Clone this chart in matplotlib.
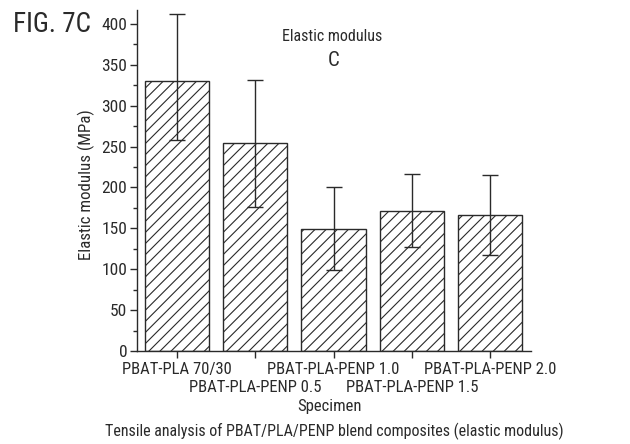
import matplotlib
matplotlib.use("Agg")
import matplotlib.pyplot as plt
from matplotlib import font_manager
import numpy as np

categories = ["PBAT-PLA 70/30", "PBAT-PLA-PENP 0.5", "PBAT-PLA-PENP 1.0",
              "PBAT-PLA-PENP 1.5", "PBAT-PLA-PENP 2.0"]
means = [330, 254, 149, 171, 166]
upper = [412, 331, 201, 216, 215]
lower = [258, 176, 99, 127, 117]

names = {f.name for f in font_manager.fontManager.ttflist}
fam = "Roboto Condensed" if "Roboto Condensed" in names else "DejaVu Sans"
plt.rcParams['font.family'] = [fam, 'DejaVu Sans']
plt.rcParams['hatch.linewidth'] = 0.8
plt.rcParams['hatch.color'] = '#333333'

ink = '#2a2a2a'
fig = plt.figure(figsize=(6.30, 4.44), dpi=100)
ax = fig.add_axes([137/630, 1-351/444, (531-137)/630, (351-10)/444])

x = np.arange(len(categories))
m = np.array(means)
yerr = np.array([m - np.array(lower), np.array(upper) - m])
ax.bar(x, m, width=0.82, facecolor='white', edgecolor=ink, linewidth=1.0,
       hatch='///', zorder=2)
ax.errorbar(x, m, yerr=yerr, fmt='none', ecolor=ink, elinewidth=1.0,
            capsize=6, capthick=1.0, zorder=3)

ax.set_xlim(-0.51, 4.52)
ax.set_ylim(0, 417)
ax.spines['top'].set_visible(False)
ax.spines['right'].set_visible(False)
for s in ('left', 'bottom'):
    ax.spines[s].set_color(ink)
    ax.spines[s].set_linewidth(1.0)

ax.set_yticks(np.arange(0, 401, 50))
ax.set_yticks(np.arange(25, 401, 50), minor=True)
ax.tick_params(axis='y', which='major', length=5, width=1, color=ink,
               labelsize=12.5, labelcolor=ink, pad=2)
ax.tick_params(axis='y', which='minor', length=3, width=1, color=ink)

ax.set_xticks(x)
ax.set_xticklabels(categories)
ax.tick_params(axis='x', which='major', length=5, width=1, color=ink,
               labelsize=12, labelcolor=ink, pad=3)
for i, t in enumerate(ax.xaxis.get_major_ticks()):
    if i % 2 == 1:
        t.tick1line.set_markersize(19)
        t.set_pad(16)

ax.set_ylabel("Elastic modulus (MPa)", fontsize=12.2, color=ink)
ax.yaxis.set_label_coords((95 - 137) / (531 - 137), (351 - 185) / (351 - 10))

fig.text(13/630, 1-25/444, "FIG. 7C", fontsize=19.5, color=ink, ha='left', va='center')
fig.text(332/630, 1-36/444, "Elastic modulus", fontsize=11.5, color=ink, ha='center', va='center')
fig.text(334/630, 1-60/444, "C", fontsize=15, color=ink, ha='center', va='center')
fig.text(329/630, 1-406/444, "Specimen", fontsize=12, color=ink, ha='center', va='center')
fig.text(334/630, 1-431/444,
         "Tensile analysis of PBAT/PLA/PENP blend composites (elastic modulus)",
         fontsize=11.5, color=ink, ha='center', va='center')

fig.savefig("out.png", dpi=100)
